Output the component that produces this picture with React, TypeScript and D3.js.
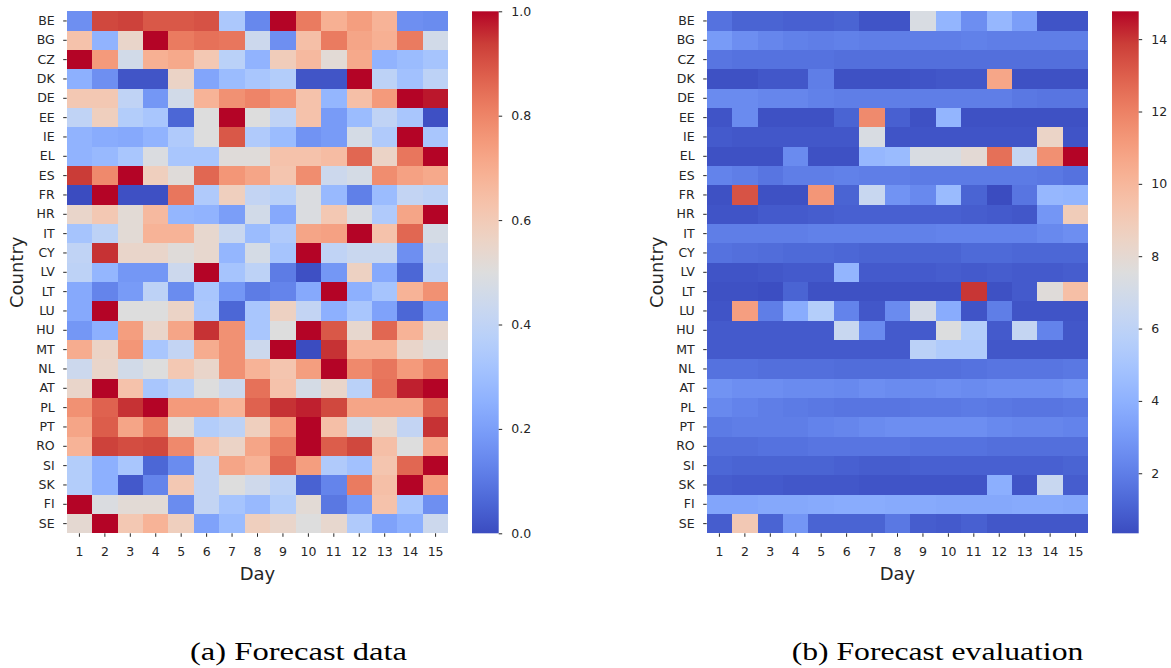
import React, { useEffect, useRef } from 'react';
import * as d3 from 'd3';

const countries = ['BE', 'BG', 'CZ', 'DK', 'DE', 'EE', 'IE', 'EL', 'ES', 'FR', 'HR', 'IT', 'CY', 'LV',
  'LT', 'LU', 'HU', 'MT', 'NL', 'AT', 'PL', 'PT', 'RO', 'SI', 'SK', 'FI', 'SE'];
const days = [1, 2, 3, 4, 5, 6, 7, 8, 9, 10, 11, 12, 13, 14, 15];

// (a) forecast data, one row per country, one value per day
const forecastData = [
  [0.16, 0.92, 0.93, 0.89, 0.89, 0.9, 0.34, 0.14, 1.0, 0.82, 0.69, 0.74, 0.68, 0.16, 0.15],
  [0.63, 0.26, 0.55, 1.0, 0.82, 0.84, 0.83, 0.44, 0.16, 0.64, 0.82, 0.72, 0.69, 0.82, 0.46],
  [1.0, 0.75, 0.46, 0.69, 0.71, 0.61, 0.38, 0.26, 0.59, 0.66, 0.52, 0.71, 0.26, 0.29, 0.32],
  [0.25, 0.16, 0.02, 0.02, 0.56, 0.22, 0.29, 0.33, 0.36, 0.02, 0.02, 1.0, 0.39, 0.31, 0.39],
  [0.61, 0.61, 0.4, 0.18, 0.46, 0.68, 0.77, 0.8, 0.76, 0.63, 0.27, 0.64, 0.75, 1.0, 0.98],
  [0.4, 0.58, 0.36, 0.33, 0.06, 0.5, 1.0, 0.5, 0.4, 0.63, 0.19, 0.29, 0.4, 0.33, 0.01],
  [0.26, 0.24, 0.23, 0.26, 0.35, 0.5, 0.89, 0.35, 0.29, 0.17, 0.19, 0.47, 0.35, 1.0, 0.33],
  [0.26, 0.28, 0.33, 0.49, 0.33, 0.33, 0.51, 0.51, 0.63, 0.63, 0.65, 0.86, 0.56, 0.83, 1.0],
  [0.94, 0.79, 1.0, 0.58, 0.51, 0.86, 0.76, 0.72, 0.62, 0.78, 0.44, 0.47, 0.78, 0.73, 0.71],
  [0.0, 1.0, 0.01, 0.01, 0.83, 0.35, 0.58, 0.41, 0.38, 0.49, 0.28, 0.12, 0.29, 0.41, 0.39],
  [0.55, 0.61, 0.52, 0.66, 0.27, 0.26, 0.2, 0.46, 0.23, 0.49, 0.61, 0.49, 0.35, 0.72, 1.0],
  [0.32, 0.39, 0.52, 0.68, 0.68, 0.54, 0.43, 0.29, 0.35, 0.72, 0.73, 1.0, 0.63, 0.86, 0.47],
  [0.4, 0.95, 0.55, 0.55, 0.51, 0.54, 0.27, 0.47, 0.32, 1.0, 0.4, 0.43, 0.43, 0.16, 0.43],
  [0.39, 0.27, 0.18, 0.18, 0.44, 1.0, 0.32, 0.39, 0.11, 0.01, 0.18, 0.57, 0.23, 0.06, 0.4],
  [0.23, 0.13, 0.19, 0.39, 0.15, 0.33, 0.18, 0.11, 0.13, 0.23, 1.0, 0.25, 0.32, 0.68, 0.77],
  [0.23, 1.0, 0.5, 0.5, 0.56, 0.34, 0.06, 0.33, 0.57, 0.41, 0.25, 0.33, 0.21, 0.06, 0.18],
  [0.18, 0.25, 0.74, 0.55, 0.72, 0.95, 0.77, 0.33, 0.5, 1.0, 0.89, 0.54, 0.86, 0.68, 0.54],
  [0.7, 0.56, 0.76, 0.33, 0.41, 0.7, 0.77, 0.44, 1.0, 0.0, 0.95, 0.68, 0.68, 0.55, 0.51],
  [0.44, 0.55, 0.46, 0.5, 0.61, 0.55, 0.77, 0.68, 0.62, 0.74, 1.0, 0.79, 0.83, 0.75, 0.81],
  [0.55, 1.0, 0.63, 0.33, 0.38, 0.5, 0.44, 0.84, 0.63, 0.47, 0.55, 0.38, 0.84, 0.97, 1.0],
  [0.77, 0.87, 0.95, 1.0, 0.75, 0.75, 0.68, 0.87, 0.95, 0.97, 0.92, 0.72, 0.72, 0.72, 0.87],
  [0.72, 0.88, 0.72, 0.82, 0.52, 0.36, 0.39, 0.58, 0.75, 1.0, 0.64, 0.46, 0.54, 0.41, 0.95],
  [0.68, 0.93, 0.91, 0.92, 0.79, 0.63, 0.56, 0.72, 0.82, 1.0, 0.88, 0.92, 0.64, 0.5, 0.72],
  [0.36, 0.25, 0.33, 0.06, 0.15, 0.41, 0.72, 0.68, 0.86, 0.74, 0.35, 0.31, 0.62, 0.86, 1.0],
  [0.36, 0.25, 0.03, 0.13, 0.61, 0.41, 0.5, 0.45, 0.39, 0.05, 0.13, 0.82, 0.64, 1.0, 0.75],
  [1.0, 0.49, 0.52, 0.52, 0.15, 0.41, 0.32, 0.28, 0.36, 0.52, 0.1, 0.19, 0.63, 0.33, 0.16],
  [0.53, 1.0, 0.61, 0.68, 0.58, 0.21, 0.29, 0.58, 0.55, 0.5, 0.54, 0.35, 0.21, 0.25, 0.44],
];

// (b) forecast evaluation
const forecastEval = [
  [1.6, 1.1, 1.1, 1.0, 1.0, 1.1, 0.6, 0.6, 7.3, 4.2, 2.6, 4.3, 3.2, 0.6, 0.6],
  [3.1, 2.6, 2.3, 2.1, 2.0, 2.1, 2.0, 2.0, 2.0, 2.0, 2.1, 2.0, 2.0, 2.0, 2.0],
  [1.7, 1.6, 1.6, 1.6, 1.6, 1.5, 1.5, 1.5, 1.5, 1.5, 1.5, 1.5, 1.5, 1.5, 1.5],
  [0.5, 0.5, 0.7, 0.7, 2.0, 0.5, 0.5, 0.5, 0.6, 0.7, 0.7, 10.7, 0.5, 0.5, 0.5],
  [2.5, 2.5, 2.3, 2.3, 2.1, 2.0, 2.0, 2.0, 2.0, 2.0, 2.0, 2.0, 1.8, 1.7, 1.7],
  [0.6, 2.5, 0.5, 0.5, 0.5, 1.1, 11.7, 1.0, 0.5, 4.2, 0.5, 0.5, 0.5, 0.5, 0.5],
  [0.8, 0.7, 0.7, 0.7, 0.7, 0.7, 7.3, 0.6, 0.6, 0.6, 0.6, 0.6, 0.6, 8.4, 0.6],
  [0.5, 0.5, 0.5, 2.5, 0.5, 0.5, 4.3, 4.5, 7.3, 7.3, 7.9, 12.5, 6.3, 11.5, 14.77],
  [2.2, 2.0, 1.7, 2.0, 2.0, 2.1, 2.0, 2.0, 1.9, 1.9, 1.9, 1.9, 1.9, 1.8, 1.6],
  [0.5, 13.3, 0.5, 0.5, 11.3, 1.1, 6.5, 2.8, 2.4, 4.5, 1.1, 0.34, 1.7, 4.3, 4.2],
  [0.6, 0.6, 0.8, 0.8, 0.9, 1.0, 1.0, 1.0, 1.0, 1.0, 0.9, 0.8, 0.7, 2.9, 8.9],
  [2.0, 2.0, 2.0, 2.0, 2.1, 2.1, 2.1, 2.1, 2.1, 2.2, 2.2, 2.2, 2.2, 2.4, 2.6],
  [1.6, 1.5, 1.4, 1.3, 1.3, 1.2, 1.1, 1.1, 1.1, 1.1, 1.3, 1.3, 1.2, 1.2, 1.2],
  [0.6, 0.6, 0.7, 0.8, 0.8, 4.2, 0.8, 0.8, 0.8, 0.9, 0.8, 0.9, 0.8, 0.8, 0.9],
  [0.5, 0.5, 0.4, 1.1, 0.5, 0.5, 0.5, 0.5, 0.5, 0.5, 14.0, 0.5, 0.8, 7.7, 9.6],
  [0.6, 11.0, 2.0, 3.8, 5.6, 2.2, 0.7, 2.5, 7.1, 3.8, 0.6, 2.0, 0.6, 0.6, 0.6],
  [0.8, 0.8, 0.8, 0.8, 0.8, 6.5, 2.5, 0.8, 0.8, 7.5, 5.6, 0.8, 6.3, 2.2, 0.7],
  [0.8, 0.8, 0.8, 0.8, 0.8, 0.8, 0.8, 0.8, 5.9, 5.4, 5.4, 0.7, 0.7, 0.7, 0.7],
  [1.6, 1.6, 1.5, 1.5, 1.5, 1.4, 1.4, 1.4, 1.5, 1.5, 1.6, 1.7, 1.7, 1.7, 1.8],
  [2.8, 2.6, 2.6, 2.5, 2.5, 2.4, 2.6, 2.5, 2.5, 2.6, 2.5, 2.6, 2.6, 2.6, 2.8],
  [2.4, 2.2, 2.0, 1.9, 1.8, 1.7, 1.7, 1.7, 1.8, 1.8, 1.9, 1.8, 1.7, 1.7, 1.8],
  [1.9, 2.0, 2.0, 2.0, 2.2, 2.3, 2.5, 2.6, 2.6, 2.6, 2.6, 2.4, 2.3, 2.3, 2.2],
  [1.5, 1.5, 1.6, 1.6, 1.7, 1.7, 1.7, 1.7, 1.6, 1.6, 1.6, 1.5, 1.5, 1.5, 1.5],
  [1.2, 1.1, 1.1, 1.1, 1.1, 1.0, 0.9, 0.9, 1.0, 1.0, 1.0, 1.0, 1.0, 1.0, 1.1],
  [0.9, 0.8, 0.8, 0.7, 0.7, 0.7, 0.6, 0.6, 0.6, 0.6, 0.6, 3.9, 0.6, 6.5, 0.9],
  [3.5, 3.5, 3.6, 3.6, 3.7, 3.8, 3.8, 3.7, 3.7, 3.6, 3.6, 3.6, 3.7, 3.7, 3.6],
  [0.9, 9.1, 1.1, 2.9, 1.1, 1.1, 1.1, 1.8, 0.9, 0.8, 1.0, 0.7, 0.7, 0.7, 0.7],
];

const dataTicks = [0, 0.2, 0.4, 0.6, 0.8, 1.0];
const evalTicks = [2, 4, 6, 8, 10, 12, 14];
const captions = ['(a) Forecast data', '(b) Forecast evaluation'];

// matplotlib "coolwarm", sampled every 1/16
const coolwarmStops = ['#3b4cc0', '#4d68d7', '#6282ea', '#779af7', '#8db0fe', '#a3c2fe', '#b8d0f9',
  '#cbd8ee', '#dddddd', '#ecd3c5', '#f5c4ad', '#f7b194', '#f49a7b', '#ec7f63', '#de604d', '#cb3e38', '#b40426'];
const coolwarm = d3.piecewise(d3.interpolateRgb, coolwarmStops);

const TEXT = '#262626';
const SANS = '"DejaVu Sans", sans-serif';

const App = () => {
  const svgRef = useRef<SVGSVGElement>(null);

  useEffect(() => {
    const svg = d3.select(svgRef.current);
    svg.selectAll('*').remove();

    const top = 11.3;
    const bottom = 533.3;
    const mapW = 381.6;
    const barW = 26.7;

    const panels = [
      { values: forecastData, ticks: dataTicks, fmt: d3.format('.1f'), left: 66.7, caption: captions[0], cx: 298.5, cw: 217 },
      { values: forecastEval, ticks: evalTicks, fmt: d3.format('d'), left: 706.7, caption: captions[1], cx: 937.5, cw: 291.6 },
    ];

    const defs = svg.append('defs');

    panels.forEach((p, i) => {
      const x = d3.scaleBand<number>().domain(days).range([p.left, p.left + mapW]);
      const y = d3.scaleBand<string>().domain(countries).range([top, bottom]);
      const ext = d3.extent(p.values.flat()) as [number, number];
      const color = d3.scaleSequential(coolwarm).domain(ext);

      const cells = p.values.flatMap((row, r) => row.map((v, c) => ({ v, country: countries[r], day: days[c] })));
      const g = svg.append('g');

      g.append('g')
        .selectAll('rect')
        .data(cells)
        .join('rect')
        .attr('x', d => x(d.day)!)
        .attr('y', d => y(d.country)!)
        .attr('width', x.bandwidth())
        .attr('height', y.bandwidth())
        .attr('fill', d => color(d.v))
        .attr('shape-rendering', 'crispEdges');

      // axes
      const yAxis = g.append('g')
        .attr('transform', `translate(${p.left},0)`)
        .call(d3.axisLeft(y).tickSize(3.5).tickPadding(8.5));
      const xAxis = g.append('g')
        .attr('transform', `translate(0,${bottom})`)
        .call(d3.axisBottom(x).tickSize(3.5).tickPadding(10));

      // colorbar
      const barX = p.left + mapW + 23.7;
      const grad = defs.append('linearGradient')
        .attr('id', `cbar${i}`)
        .attr('x1', 0).attr('y1', 1).attr('x2', 0).attr('y2', 0);
      d3.range(0, 33).forEach(k => {
        grad.append('stop').attr('offset', k / 32).attr('stop-color', coolwarm(k / 32));
      });
      g.append('rect')
        .attr('x', barX)
        .attr('y', top)
        .attr('width', barW)
        .attr('height', bottom - top)
        .attr('fill', `url(#cbar${i})`);
      const cScale = d3.scaleLinear().domain(ext).range([bottom, top]);
      const cAxis = g.append('g')
        .attr('transform', `translate(${barX + barW},0)`)
        .call(d3.axisRight(cScale).tickValues(p.ticks).tickFormat(p.fmt as any).tickSize(3.5).tickPadding(9));

      [xAxis, yAxis, cAxis].forEach(a => {
        a.select('.domain').remove();
        a.attr('font-family', SANS).attr('font-size', 12.5);
        a.selectAll('line').attr('stroke', TEXT).attr('stroke-width', 1);
        a.selectAll('text').attr('fill', TEXT);
      });

      g.append('text')
        .attr('x', p.left + mapW / 2)
        .attr('y', 580)
        .attr('text-anchor', 'middle')
        .attr('font-family', SANS)
        .attr('font-size', 18)
        .attr('fill', TEXT)
        .text('Day');

      g.append('text')
        .attr('transform', `translate(${p.left - 43.5},${(top + bottom) / 2}) rotate(-90)`)
        .attr('text-anchor', 'middle')
        .attr('font-family', SANS)
        .attr('font-size', 18)
        .attr('fill', TEXT)
        .text('Country');

      g.append('text')
        .attr('x', p.cx)
        .attr('y', 660)
        .attr('text-anchor', 'middle')
        .attr('font-family', '"Liberation Serif", serif')
        .attr('font-size', 26)
        .attr('textLength', p.cw)
        .attr('lengthAdjust', 'spacingAndGlyphs')
        .attr('fill', '#000')
        .text(p.caption);
    });
  }, []);

  return (
    <svg
      ref={svgRef}
      width={1171}
      height={668}
      style={{ position: 'absolute', left: 0, top: 0, background: '#fff' }}
    ></svg>
  );
};

export default App;
